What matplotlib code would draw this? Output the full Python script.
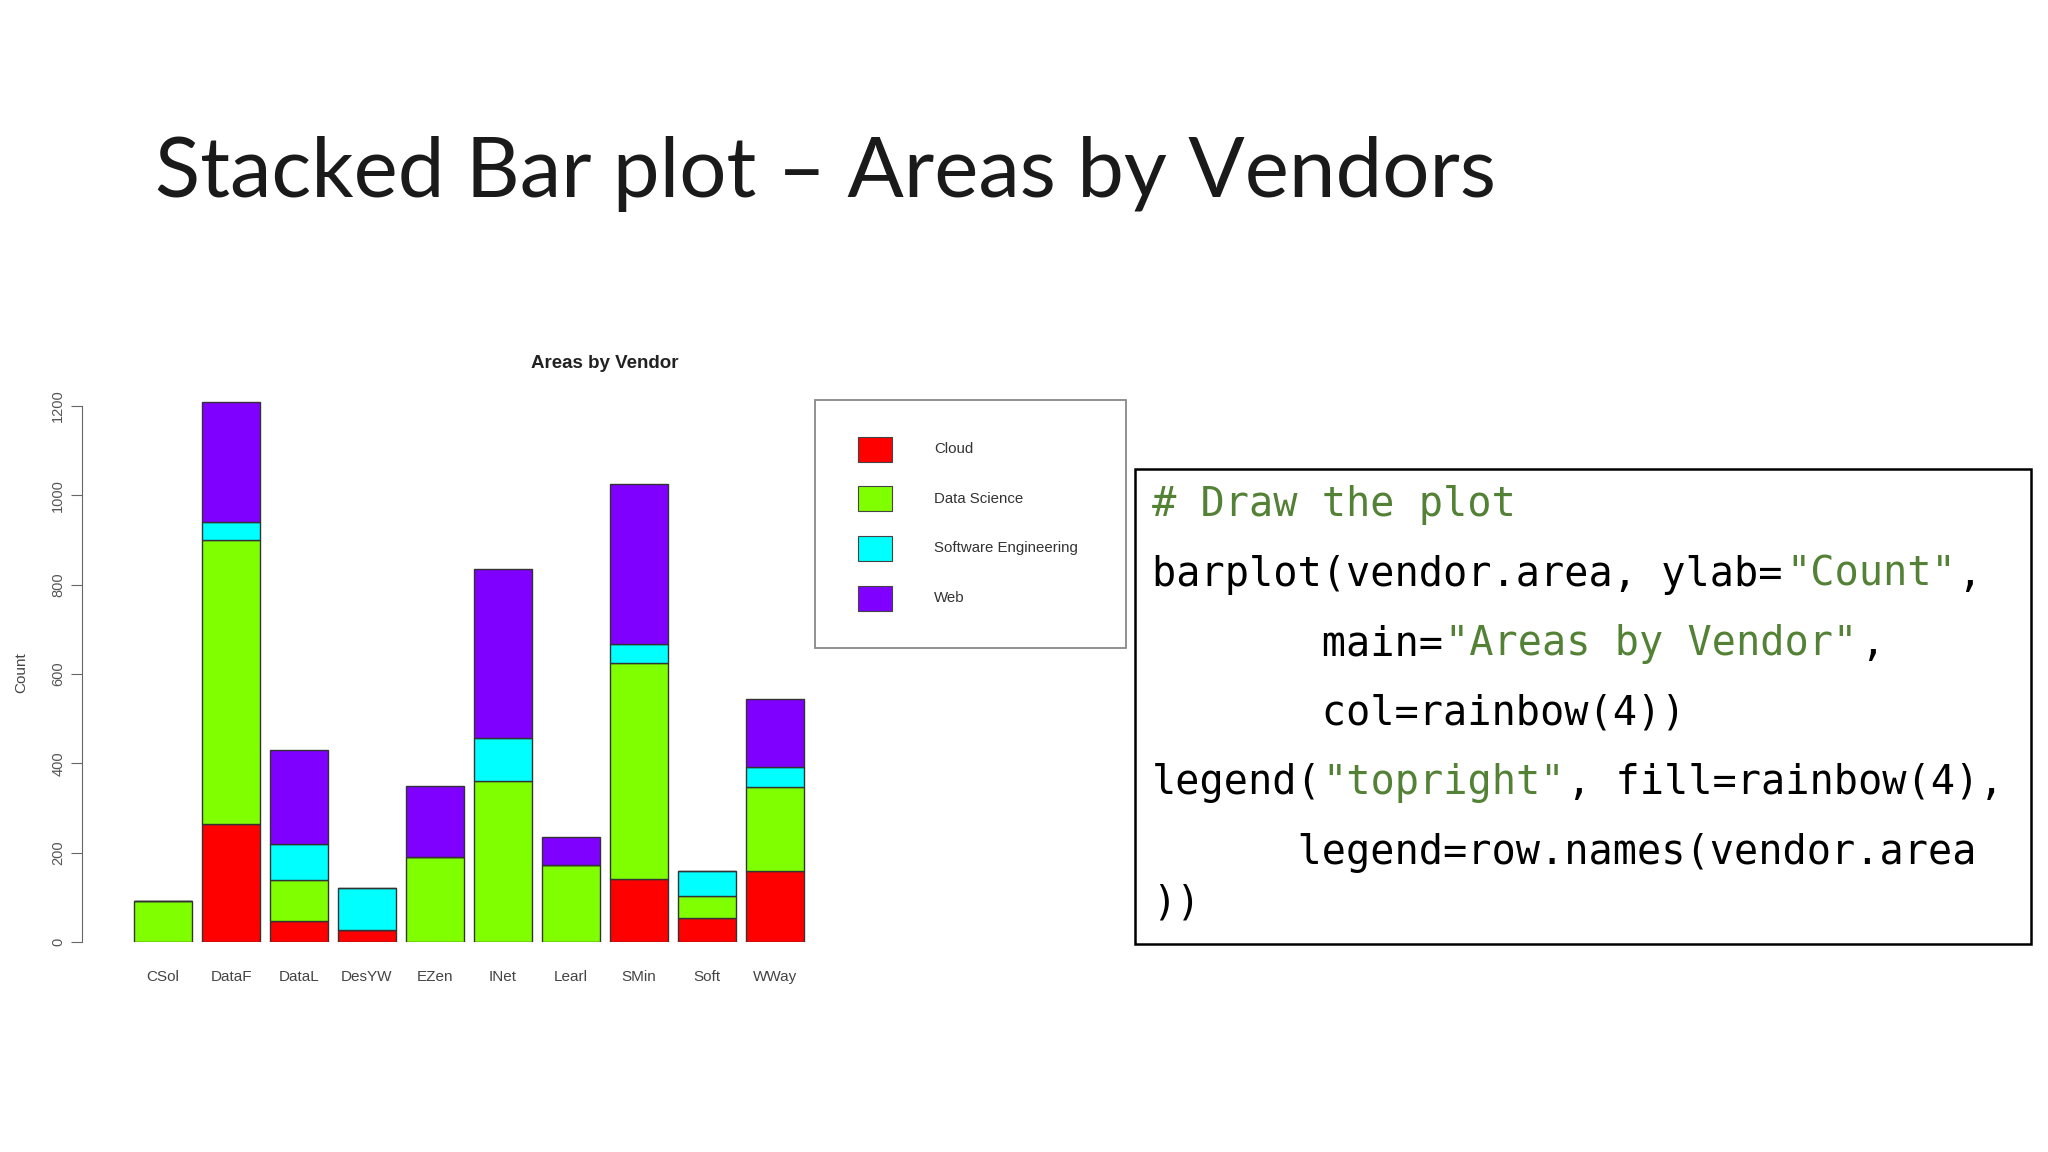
import matplotlib.pyplot as plt
from matplotlib.patches import Rectangle
import numpy as np

# data
vendors = ['CSol', 'DataF', 'DataL', 'DesYW', 'EZen', 'INet', 'Learl', 'SMin', 'Soft', 'WWay']
areas = ['Cloud', 'Data Science', 'Software Engineering', 'Web']
cloud = [0, 264, 48, 27, 0, 0, 0, 142, 53, 159]
data_science = [91, 636, 90, 0, 191, 360, 173, 482, 50, 189]
software_eng = [0, 41, 81, 94, 0, 97, 0, 44, 57, 43]
web = [0, 269, 210, 0, 159, 377, 63, 357, 0, 153]
yticks = [0, 200, 400, 600, 800, 1000, 1200]
rainbow4 = ['#FF0000', '#80FF00', '#00FFFF', '#8000FF']

code_lines = [
    [('# Draw the plot', 'g')],
    [('barplot(vendor.area, ylab=', 'k'), ('"Count"', 'g'), (',', 'k')],
    [('       main=', 'k'), ('"Areas by Vendor"', 'g'), (',', 'k')],
    [('       col=rainbow(4))', 'k')],
    [('legend(', 'k'), ('"topright"', 'g'), (', fill=rainbow(4),', 'k')],
    [('      legend=row.names(vendor.area', 'k')],
    [('))', 'k')],
]

W, H = 2048, 1152
fig = plt.figure(figsize=(20.48, 11.52), dpi=100)
fig.patch.set_facecolor('white')

# overlay in pixel coordinates for slide text and boxes
ov = fig.add_axes([0, 0, 1, 1])
ov.set_xlim(0, W)
ov.set_ylim(H, 0)
ov.axis('off')

ov.text(155, 174, 'Stacked Bar plot \u2013 Areas by Vendors', fontsize=60,
        family='Lato', fontweight='normal', va='center', ha='left', color='#1a1a1a')

# chart axes: value 0 at y=942px, 1200 at y=406px; bar pitch 68px
px_per_unit = (942 - 406) / 1200
ytop = 1250
ax_left, ax_right = 82, 830
x0 = -(163 - ax_left) / 68
x1 = x0 + (ax_right - ax_left) / 68
ax = fig.add_axes([ax_left / W, 1 - 942 / H, (ax_right - ax_left) / W, ytop * px_per_unit / H])
ax.set_facecolor('none')
ax.set_xlim(x0, x1)
ax.set_ylim(0, ytop)

x = np.arange(len(vendors))
bottom = np.zeros(len(vendors))
for vals, col in zip([cloud, data_science, software_eng, web], rainbow4):
    ax.bar(x, vals, bottom=bottom, width=0.84, color=col, edgecolor='#333333', linewidth=1.0)
    bottom += np.array(vals)

for s in ['top', 'right', 'bottom']:
    ax.spines[s].set_visible(False)
ax.spines['left'].set_bounds(0, 1200)
ax.spines['left'].set_color('#666666')
ax.set_yticks(yticks)
ax.set_yticklabels([str(v) for v in yticks], rotation=90, va='center',
                   fontsize=10.5, color='#555555', family='Liberation Sans')
ax.tick_params(axis='y', length=8, color='#666666', pad=4)
ax.set_xticks(x)
ax.set_xticklabels(vendors, fontsize=11, color='#444444', family='Liberation Sans')
ax.tick_params(axis='x', length=0, pad=20)

ov.text(21, 673, 'Count', rotation=90, fontsize=11, color='#444444',
        family='Liberation Sans', ha='center', va='center')
ov.text(605, 363, 'Areas by Vendor', fontsize=13.5, fontweight='bold', color='#222222',
        family='Liberation Sans', ha='center', va='center')

# legend box
ov.add_patch(Rectangle((815, 400), 311, 248, fill=False, edgecolor='#888888', linewidth=1.3))
for i, (name, col) in enumerate(zip(areas, rainbow4)):
    yc = 449 + i * 49.7
    ov.add_patch(Rectangle((858, yc - 12.5), 34, 25, facecolor=col, edgecolor='#444444', linewidth=0.8))
    ov.text(934, yc, name, fontsize=10.8, color='#333333', family='Liberation Sans',
            ha='left', va='center')

# code box
ov.add_patch(Rectangle((1135, 469), 896, 475, fill=False, edgecolor='black', linewidth=1.8))
char_w = 24.4
colors = {'g': '#538135', 'k': '#000000'}
for i, segs in enumerate(code_lines):
    yb = 516 + i * 69.6 if i < 6 else 914
    col_idx = 0
    for txt, c in segs:
        ov.text(1152 + col_idx * char_w, yb, txt, fontsize=29, family='DejaVu Sans Mono',
                color=colors[c], ha='left', va='baseline')
        col_idx += len(txt)

fig.savefig('out.png', dpi=100, facecolor='white')
